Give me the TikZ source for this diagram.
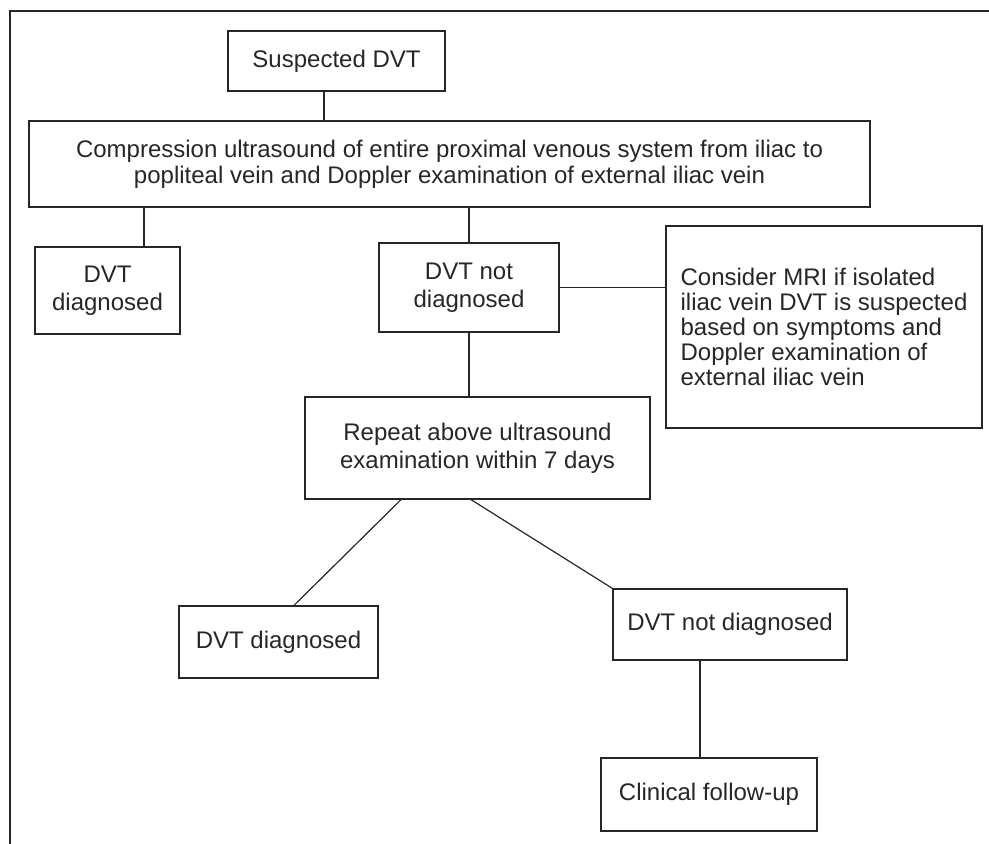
\documentclass[tikz,border=0pt]{standalone}
\usepackage{fontspec}
\setmainfont{Liberation Sans}
\usetikzlibrary{positioning}

\begin{document}
\begin{tikzpicture}[x=0.5pt, y=-0.5pt,
    line width=0.65pt, draw=black!85,
    every node/.style={font=\fontsize{12}{13}\selectfont, text=black!85},
    stepbox/.style={draw, inner sep=0pt, align=center},
    wide/.style={font=\fontsize{12}{14}\selectfont},
    link/.style={draw, line width=0.6pt}]
    \useasboundingbox (0,0) rectangle (989,844);

    % outer frame (only top and left edge show)
    \draw (10,844) |- (989,11);

    \node[stepbox, minimum width=108.5pt, minimum height=30pt] (sus) at (336.5,61) {Suspected DVT};
    \node[stepbox, minimum width=420.5pt, minimum height=43pt] (cus) at (449.5,164)
        {Compression ultrasound of entire proximal venous system from iliac to\\popliteal vein and Doppler examination of external iliac vein};
    \node[stepbox, wide, minimum width=72.5pt, minimum height=43.5pt] (dd1) at (107.5,290.5) {DVT\\diagnosed};
    \node[stepbox, wide, minimum width=90pt, minimum height=44.5pt] (dnd1) at (469,287.5) {DVT not\\diagnosed};
    \node[stepbox, align=left, font=\fontsize{12}{12.5}\selectfont, minimum width=158pt, minimum height=101pt] (mri) at (824,327)
        {Consider MRI if isolated\\iliac vein DVT is suspected\\based on symptoms and\\Doppler examination of\\external iliac vein};
    \node[stepbox, wide, minimum width=172.5pt, minimum height=51pt] (rep) at (477.5,448)
        {Repeat above ultrasound\\examination within 7 days};
    \node[stepbox, minimum width=99.5pt, minimum height=36pt] (dd2) at (278.5,642) {DVT diagnosed};
    \node[stepbox, minimum width=117pt, minimum height=35.5pt] (dnd2) at (730,624.5) {DVT not diagnosed};
    \node[stepbox, minimum width=108pt, minimum height=36.5pt] (fup) at (709,794.5) {Clinical follow-up};

    % connectors
    \draw[link] ([xshift=-6.25pt]sus.south) -- ([xshift=-6.25pt]sus.south |- cus.north);
    \draw[link] ([xshift=18.25pt]dd1.north |- cus.south) -- ([xshift=18.25pt]dd1.north);
    \draw[link] (dnd1.north |- cus.south) -- (dnd1.north);
    \draw[link] (dnd1.east) -- (dnd1.east -| mri.west);
    \draw[link] (dnd1.south) -- (dnd1.south |- rep.north);
    \draw[link] ([xshift=-38.25pt]rep.south) -- ([xshift=7.75pt]dd2.north);
    \draw[link] ([xshift=-3.25pt]rep.south) -- (dnd2.north west);
    \draw[link] ([xshift=-4.5pt]fup.north |- dnd2.south) -- ([xshift=-4.5pt]fup.north);
\end{tikzpicture}
\end{document}
